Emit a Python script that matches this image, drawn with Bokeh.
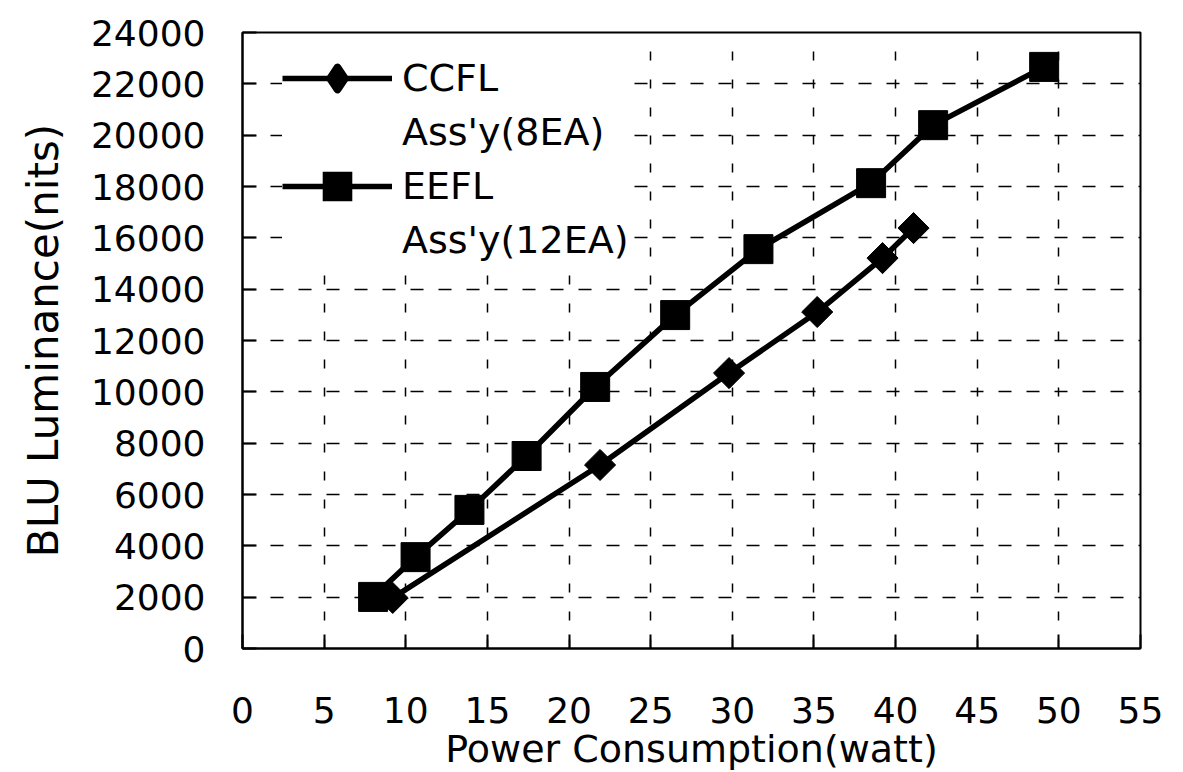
import numpy as np
from bokeh.plotting import figure
from bokeh.models import Range1d, FixedTicker, Legend, LegendItem
from bokeh.embed import file_html
from bokeh.resources import INLINE

# ---- data ----
ccfl_power = [9.2, 21.9, 29.8, 35.2, 39.2, 41.1]
ccfl_lum = [1970, 7150, 10730, 13110, 15210, 16380]
eefl_power = [8.0, 10.6, 13.9, 17.4, 21.6, 26.5, 31.6, 38.5, 42.3, 49.1]
eefl_lum = [2010, 3560, 5400, 7500, 10190, 12990, 15560, 18130, 20390, 22660]
x_ticks = list(range(0, 56, 5))
y_ticks = list(range(0, 24001, 2000))
ccfl_name = "CCFL"
ccfl_sub = "Ass'y(8EA)"
eefl_name = "EEFL"
eefl_sub = "Ass'y(12EA)"
x_title = "Power Consumption(watt)"
y_title = "BLU Luminance(nits)"

FONT = "DejaVu Sans"

p = figure(frame_width=898, frame_height=616,
           x_range=Range1d(0, 55), y_range=Range1d(0, 24000),
           output_backend="svg", toolbar_location=None,
           min_border_left=242, min_border_right=40,
           min_border_top=32, min_border_bottom=60,
           background_fill_color="white", border_fill_color="white",
           outline_line_color="black", outline_line_width=2)

# grid
p.xgrid.ticker = FixedTicker(ticks=x_ticks)
p.ygrid.ticker = FixedTicker(ticks=y_ticks)
p.xgrid.grid_line_color = "black"
p.ygrid.grid_line_color = "black"
p.xgrid.grid_line_width = 1.5
p.ygrid.grid_line_width = 1.5
p.xgrid.grid_line_dash = "9 19"
p.ygrid.grid_line_dash = "13 15"

def style_axis(ax, ticks):
    ax.ticker = FixedTicker(ticks=ticks)
    ax.axis_line_color = "black"
    ax.axis_line_width = 2
    ax.major_tick_line_color = "black"
    ax.major_tick_line_width = 2
    ax.major_tick_in = 14
    ax.major_tick_out = 0
    ax.minor_tick_line_color = None
    ax.major_label_text_font = FONT
    ax.major_label_text_color = "black"
    ax.axis_label_text_font = FONT
    ax.axis_label_text_font_style = "normal"
    ax.axis_label_text_color = "black"

xa = p.xaxis[0]
style_axis(xa, x_ticks)
xa.major_label_text_font_size = "36px"
xa.major_label_standoff = 48
xa.axis_label = x_title
xa.axis_label_text_font_size = "38px"
xa.axis_label_standoff = 1

ya = p.yaxis[0]
style_axis(ya, y_ticks)
ya.major_label_text_font_size = "36px"
ya.major_label_standoff = 37
ya.axis_label = y_title
ya.axis_label_text_font_size = "42px"
ya.axis_label_standoff = 20

# series
ccfl_line = p.line(ccfl_power, ccfl_lum, line_color="black", line_width=5.5)
ccfl_pts = p.scatter(ccfl_power, ccfl_lum, marker="square", angle=np.pi / 4,
                     size=22, fill_color="black", line_color="black")
eefl_line = p.line(eefl_power, eefl_lum, line_color="black", line_width=5.5)
eefl_pts = p.scatter(eefl_power, eefl_lum, marker="square", size=29,
                     fill_color="black", line_color="black")

# legend-only (hidden) renderers, drawing the legend swatches
ccfl_leg = p.scatter(ccfl_power, ccfl_lum, marker="diamond", size=20,
                     fill_color="black", line_color="black", line_width=8,
                     line_join="round", visible=False)
eefl_leg = p.scatter(eefl_power, eefl_lum, marker="square", size=20,
                     fill_color="black", line_color="black", line_width=8,
                     line_join="miter", visible=False)
ccfl_blank = p.line(ccfl_power, ccfl_lum, line_alpha=0, visible=False)
eefl_blank = p.line(eefl_power, eefl_lum, line_alpha=0, visible=False)

legend = Legend(items=[
    LegendItem(label=ccfl_name, renderers=[ccfl_line, ccfl_leg]),
    LegendItem(label=ccfl_sub, renderers=[ccfl_blank]),
    LegendItem(label=eefl_name, renderers=[eefl_line, eefl_leg]),
    LegendItem(label=eefl_sub, renderers=[eefl_blank]),
], location=(40, 381), glyph_width=110, glyph_height=54, spacing=0,
   padding=12, margin=0, label_standoff=10, label_height=54,
   label_text_font=FONT, label_text_font_size="38px", label_text_color="black",
   border_line_color=None, background_fill_color="white", background_fill_alpha=1.0)
p.add_layout(legend)

open("out.html", "w").write(file_html(p, INLINE))
